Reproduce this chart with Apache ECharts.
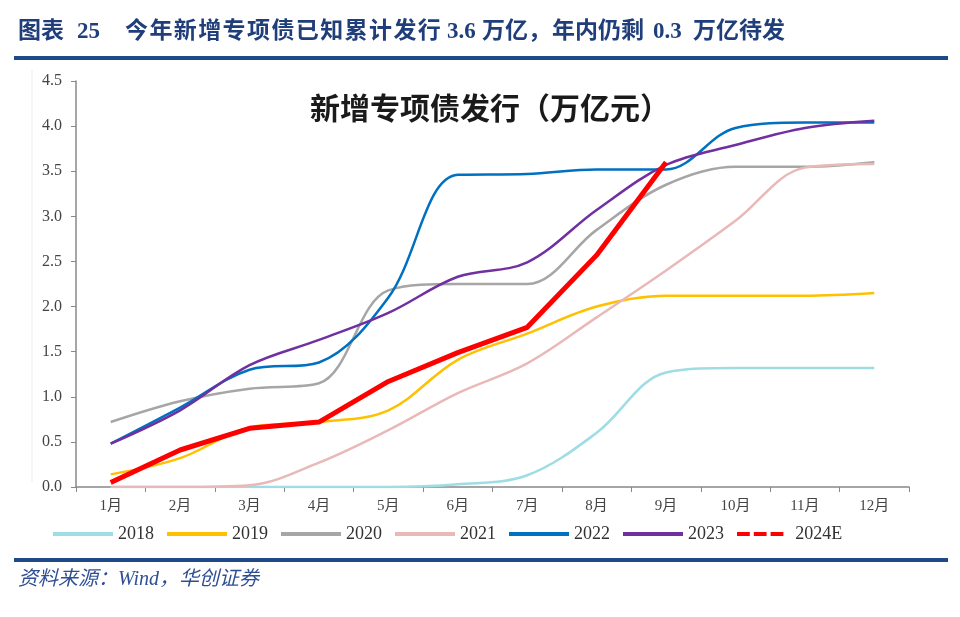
<!DOCTYPE html>
<html><head><meta charset="utf-8">
<script src="https://cdn.jsdelivr.net/npm/echarts@6/dist/echarts.min.js"></script>
<style>html,body{margin:0;padding:0;background:#fff}#c{width:960px;height:617px}</style>
</head><body><div id="c"></div>
<script>
const months = ['1月','2月','3月','4月','5月','6月','7月','8月','9月','10月','11月','12月'];
const yTicks = [0,0.5,1,1.5,2,2.5,3,3.5,4,4.5];
const s2018 = [0,0,0,0,0,0.03,0.13,0.6,1.27,1.32,1.32,1.32];
const s2019 = [0.14,0.32,0.66,0.72,0.85,1.41,1.7,2.0,2.12,2.12,2.12,2.15];
const s2020 = [0.72,0.95,1.09,1.15,2.18,2.25,2.25,2.85,3.35,3.55,3.55,3.6];
const s2021 = [0,0,0.02,0.27,0.63,1.04,1.37,1.88,2.4,2.95,3.54,3.58];
const s2022 = [0.48,0.88,1.3,1.38,2.1,3.46,3.47,3.52,3.52,3.98,4.04,4.04];
const s2023 = [0.48,0.85,1.35,1.63,1.93,2.33,2.49,3.07,3.57,3.79,3.98,4.06];
const s2024E = [0.05,0.41,0.65,0.72,1.17,1.49,1.77,2.57,3.6];
const names = ['2018','2019','2020','2021','2022','2023','2024E'];
const colors = ['#9EDDE3','#FFC000','#A6A6A6','#E9B9B8','#0070C0','#7030A0','#FF0000'];
const datas = [s2018,s2019,s2020,s2021,s2022,s2023,s2024E];

const chart = echarts.init(document.getElementById('c'));
const series = names.map((n,i)=>({
  name:n, type:'line', data:datas[i], symbol:'none',
  smooth: i===6 ? false : 0.35,
  z: i===6 ? 10 : 2+i,
  lineStyle:{color:colors[i], width: i===6 ? 5 : 2.5},
  itemStyle:{color:colors[i]}
}));
const headFont = 'bold 23px "Liberation Serif","Noto Sans CJK SC",serif';
const headColor = '#1F3E7A';
const headPieces = [
  ['图表',18],['25',77],['3.6',447],['万亿，',482],['年内仍剩',552],['0.3',653],['万亿待发',693]
];
const headLong = '今年新增专项债已知累计发行';
const headLongPieces = headLong.split('').map((ch,i)=>[ch, 125 + i*24.4]);
const dashIcon = 'path://M0,0h16v5h-16z M21,0h16v5h-16z M42,0h16v5h-16z';
chart.setOption({
  animation:false,
  textStyle:{fontFamily:'"Liberation Serif","Noto Sans CJK SC",serif'},
  title:{text:'新增专项债发行（万亿元）', left:305, top:88,
    textStyle:{fontFamily:'"Noto Sans CJK SC"', fontSize:30, fontWeight:'bold', color:'#1a1a1a'}},
  grid:{left:76, right:51, top:81, bottom:130},
  legend:{left:48, top:520, itemWidth:60, itemHeight:4, itemGap:13,
    textStyle:{fontSize:18, color:'#333', fontFamily:'"Liberation Serif",serif'},
    data: names.map((n,i)=> ({name:n, icon: i===6 ? dashIcon : 'rect', itemStyle:{color:colors[i]}}))
  },
  xAxis:{type:'category', data:months, boundaryGap:true,
    axisLine:{lineStyle:{color:'#888', width:1.5}},
    axisTick:{show:true, length:5, lineStyle:{color:'#888'}},
    axisLabel:{color:'#444', fontSize:15, margin:12, fontFamily:'"Liberation Serif","Noto Sans CJK SC",serif'}},
  yAxis:{type:'value', min:0, max:4.5, interval:0.5,
    axisLine:{show:true, lineStyle:{color:'#888', width:1.5}},
    axisTick:{show:true, length:5, lineStyle:{color:'#888'}},
    splitLine:{show:false},
    axisLabel:{color:'#444', fontSize:16, margin:14, formatter:v=>v.toFixed(1)}},
  graphic:[
    ...headPieces.concat(headLongPieces).map(p=>({type:'text', x:p[1], y:32, style:{text:p[0], font:headFont, fill:headColor, textVerticalAlign:'middle'}})),
    {type:'rect', shape:{x:14, y:56, width:934, height:4}, style:{fill:'#1F4A87'}},
    {type:'line', shape:{x1:32, y1:70, x2:32, y2:482}, style:{stroke:'#ececec', lineWidth:1}},
    {type:'rect', shape:{x:14, y:558, width:934, height:4}, style:{fill:'#1F4A87'}},
    {type:'text', x:18, y:580, style:{text:'资料来源：Wind，华创证券', textVerticalAlign:'middle',
      font:'italic 20px "Liberation Serif","Noto Sans CJK SC",serif', fill:'#2F4F95'}}
  ],
  series
});
</script></body></html>
